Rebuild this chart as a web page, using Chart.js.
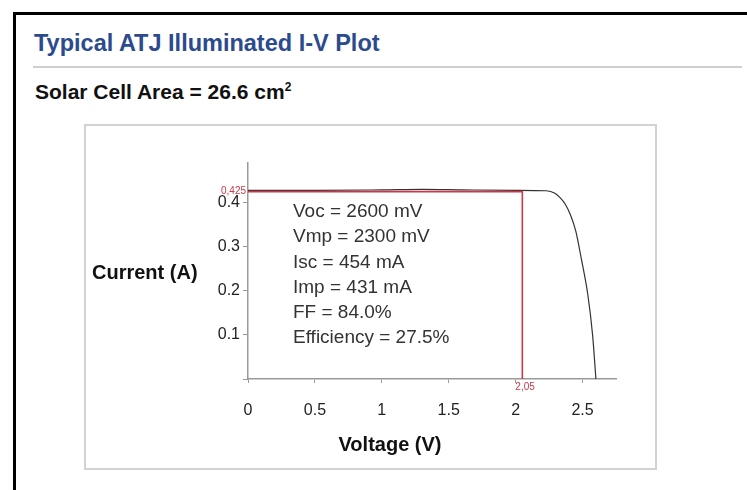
<!DOCTYPE html>
<html>
<head>
<meta charset="utf-8">
<script src="https://cdn.jsdelivr.net/npm/chart.js@4/dist/chart.umd.min.js"></script>
<style>
  body { margin: 0; background: #fff; font-family: "Liberation Sans", Arial, sans-serif; }
  #frame { position: absolute; left: 13px; top: 12px; width: 760px; height: 500px; border: 3px solid #000; }
  #title { position: absolute; left: 34px; top: 30px; font-size: 23.5px; font-weight: bold; color: #2b4b8e; white-space: nowrap; }
  #rule { position: absolute; left: 33px; top: 66px; width: 709px; height: 2px; background: #cfcfcf; }
  #area { position: absolute; left: 35px; top: 80px; font-size: 21px; font-weight: bold; color: #111; white-space: nowrap; }
  #area sup { font-size: 12px; }
  #box { position: absolute; left: 84px; top: 124px; width: 569px; height: 342px; border: 2px solid #d2d2d2; }
  #box canvas { position: absolute; left: 0; top: 0; }
</style>
</head>
<body>
<div id="frame"></div>
<div id="title">Typical ATJ Illuminated I-V Plot</div>
<div id="rule"></div>
<div id="area">Solar Cell Area = 26.6 cm<sup>2</sup></div>
<div id="box"><canvas id="ivChart" width="569" height="342"></canvas></div>

<script>
// I-V curve (volts, amps)
const voltage = [0, 0.5, 1.0, 1.3, 1.6, 2.0, 2.23, 2.29, 2.33, 2.37, 2.41, 2.45, 2.49, 2.54, 2.575, 2.60];
const current = [0.428, 0.428, 0.429, 0.430, 0.429, 0.428, 0.427, 0.422, 0.412, 0.397, 0.372, 0.335, 0.274, 0.19, 0.10, 0];

// max power point marker
const mpVoltage = 2.05;
const mpCurrent = 0.425;
const mpVoltageLabel = '2,05';
const mpCurrentLabel = '0,425';

const xTicks = [0, 0.5, 1, 1.5, 2, 2.5];
const yTicks = [0, 0.1, 0.2, 0.3, 0.4];
const xMax = 2.75;
const yMax = 0.49;

const specs = [
  'Voc = 2600 mV',
  'Vmp = 2300 mV',
  'Isc = 454 mA',
  'Imp = 431 mA',
  'FF = 84.0%',
  'Efficiency = 27.5%'
];

const redColor = '#c83a4a';
const axisColor = '#9a9a9a';

const curvePoints = voltage.map((v, i) => ({ x: v, y: current[i] }));
const mpPoints = [
  { x: 0, y: mpCurrent },
  { x: mpVoltage, y: mpCurrent },
  { x: mpVoltage, y: 0 }
];

// texts drawn inside the canvas: axis titles, red labels, spec block
const textPlugin = {
  id: 'texts',
  afterDraw(chart) {
    const c = chart.ctx;
    const xs = chart.scales.x, ys = chart.scales.y;
    const area = chart.chartArea;
    c.save();
    c.fillStyle = '#111';
    c.font = 'bold 20px "Liberation Sans", Arial, sans-serif';
    c.textBaseline = 'middle';
    c.textAlign = 'left';
    c.fillText('Current (A)', 6, (area.top + area.bottom) / 2 + 2);
    c.textAlign = 'center';
    c.fillText('Voltage (V)', 304, area.bottom + 66);

    // red labels
    c.fillStyle = redColor;
    c.font = '10px "Liberation Sans", Arial, sans-serif';
    c.textAlign = 'right';
    c.fillText(mpCurrentLabel, area.left - 2, ys.getPixelForValue(mpCurrent));
    c.textAlign = 'left';
    c.fillText(mpVoltageLabel, xs.getPixelForValue(mpVoltage) - 7, area.bottom + 8);

    // specification block
    c.fillStyle = '#333';
    c.font = '19px "Liberation Sans", Arial, sans-serif';
    specs.forEach((s, i) => {
      c.fillText(s, area.left + 45, area.top + 49 + i * 25.2);
    });
    c.restore();
  }
};

const ctx = document.getElementById('ivChart').getContext('2d');
const ivChart = new Chart(ctx, {
  type: 'line',
  data: {
    datasets: [
      {
        data: mpPoints,
        borderColor: redColor,
        borderWidth: 1.6,
        pointRadius: 0,
        tension: 0
      },
      {
        data: curvePoints,
        borderColor: '#333',
        borderWidth: 1.2,
        pointRadius: 0,
        cubicInterpolationMode: 'monotone'
      }
    ]
  },
  options: {
    responsive: false,
    animation: false,
    layout: { padding: { top: 37, right: 39, left: 0, bottom: 0 } },
    plugins: { legend: { display: false }, tooltip: { enabled: false } },
    scales: {
      x: {
        type: 'linear',
        min: 0,
        max: xMax,
        afterBuildTicks: s => { s.ticks = xTicks.map(v => ({ value: v })); },
        afterFit: s => { s.height = 89; },
        border: { color: axisColor, width: 1.5 },
        grid: { drawOnChartArea: false, color: axisColor, tickLength: 4 },
        ticks: {
          padding: 18,
          color: '#222',
          font: { family: '"Liberation Sans", Arial, sans-serif', size: 16 },
          maxRotation: 0,
          callback: v => String(v)
        }
      },
      y: {
        type: 'linear',
        min: 0,
        max: yMax,
        afterBuildTicks: s => { s.ticks = yTicks.map(v => ({ value: v })); },
        afterFit: s => { s.width = 162; },
        border: { color: axisColor, width: 1.5 },
        grid: { drawOnChartArea: false, color: axisColor, tickLength: 5 },
        ticks: {
          padding: 3,
          color: '#222',
          font: { family: '"Liberation Sans", Arial, sans-serif', size: 16 },
          callback: v => (v === 0 ? '' : v.toFixed(1))
        }
      }
    }
  },
  plugins: [textPlugin]
});
</script>
</body>
</html>
